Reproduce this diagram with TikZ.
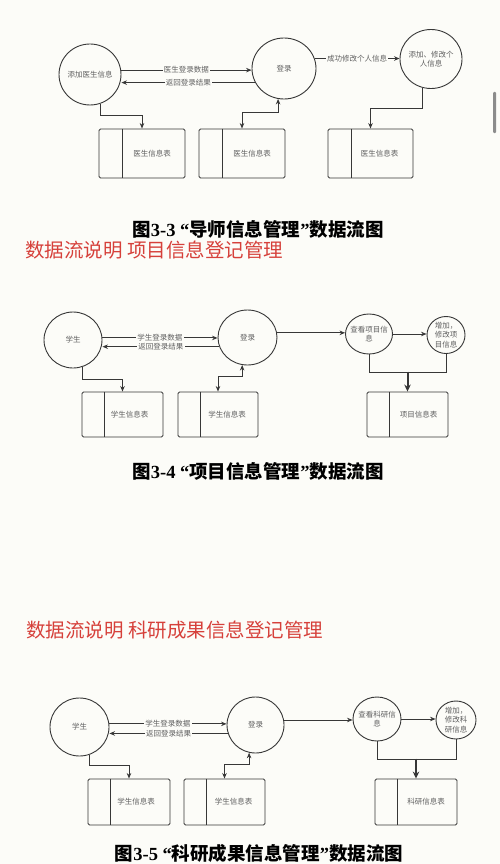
\documentclass[tikz,border=0pt]{standalone}
\usepackage{fontspec}
\setmainfont{Liberation Serif}
\newfontfamily\cjk{Noto Sans CJK SC}
\usetikzlibrary{shapes.geometric,arrows.meta,calc}
\definecolor{bg}{RGB}{252,252,248}
\definecolor{ln}{RGB}{55,55,55}
\definecolor{tx}{RGB}{95,95,95}
\definecolor{hd}{RGB}{214,64,58}
\definecolor{sb}{RGB}{140,140,140}
\newcommand{\zhb}{\cjk\bfseries}
\newcommand{\nb}{\rmfamily\bfseries}
\begin{document}
\begin{tikzpicture}[x=1pt,y=-1pt,
  bubble/.style={ellipse,draw=ln,line width=0.9pt,inner sep=0pt},
  blbl/.style={text=tx,font=\cjk\fontsize{7.5}{9.5}\selectfont,align=center,inner sep=0pt},
  store/.style={rectangle,rounded corners=1.5pt,draw=ln,line width=0.9pt,inner sep=0pt,text=tx,font=\cjk\fontsize{7.5}{9.5}\selectfont},
  divider/.style={draw=ln,line width=0.9pt},
  flow/.style={draw=ln,line width=0.9pt,-{Stealth[length=5.5pt,width=4.5pt]}},
  twoway/.style={draw=ln,line width=0.9pt,{Stealth[length=5.5pt,width=4.5pt]}-{Stealth[length=5.5pt,width=4.5pt]}},
  plain/.style={draw=ln,line width=0.9pt},
  thickflow/.style={draw=ln,line width=2pt,-{Stealth[length=7pt,width=6.5pt]}},
  flbl/.style={fill=bg,inner sep=1.2pt,text=tx,font=\cjk\fontsize{7.5}{9.5}\selectfont},
  caption/.style={inner sep=0pt,font=\fontsize{18.5}{20}\selectfont,text=black},
  heading/.style={anchor=west,inner sep=0pt,text=hd,font=\cjk\fontsize{19.5}{22}\selectfont}
]
\fill[bg] (0,0) rectangle (500,864);
\useasboundingbox (0,0) rectangle (500,864);
\fill[sb,rounded corners=1pt] (493,92) rectangle (496,133);

% ===== Diagram 1 =====
\node[bubble,minimum width=62pt,minimum height=61pt,label={[blbl]center:添加医生信息}] (c1) at (90,74.5) {};
\node[bubble,minimum width=64pt,minimum height=61pt,label={[blbl]center:登录}] (l1) at (284,68.5) {};
\node[bubble,minimum width=62pt,minimum height=59pt,label={[blbl]center:{添加、修改个\\人信息}}] (c3) at (431,59) {};
\node[store,minimum width=86pt,minimum height=49pt] (t1) at (142,153.5) {\hspace*{20pt}医生信息表};
\node[store,minimum width=86pt,minimum height=49pt] (t2) at (242,153.5) {\hspace*{20pt}医生信息表};
\node[store,minimum width=85pt,minimum height=49pt] (t3) at (370.5,153.5) {\hspace*{18pt}医生信息表};
\foreach \t in {t1,t2,t3}{\draw[divider] ([xshift=24pt]\t.north west) -- ([xshift=24pt]\t.south west);}
\draw[flow] (c1.8) -- (c1.8 -| l1.west) node[flbl,midway] {医生登录数据};
\draw[flow] (l1.206) -- (l1.206 -| c1.east) node[flbl,midway] {返回登录结果};
\draw[flow] (c1.-70) |- ([yshift=13pt]t1.north) -- (t1.north);
\draw[twoway] (t2.north) -- ++(0,-16) -| (l1.-101);
\draw[flow] (l1.18) -- (l1.18 -| c3.west) node[flbl,midway] {成功修改个人信息};
\draw[flow] (c3.-107) |- ([yshift=20pt]t3.north) -- (t3.north);

\node[caption] (cap1) at (258,229) {{\zhb 图}{\nb 3-3 “}{\zhb 导师信息管理}{\nb ”}{\zhb 数据流图}};
\node[heading] (h1) at (25,250.5) {数据流说明 项目信息登记管理};

% ===== Diagram 2 =====
\node[bubble,minimum width=58pt,minimum height=56pt,label={[blbl]center:学生}] (s2) at (73,340) {};
\node[bubble,minimum width=59pt,minimum height=55pt,label={[blbl]center:登录}] (l2) at (247.5,337.5) {};
\node[bubble,minimum width=47pt,minimum height=40pt,label={[blbl]center:{查看项目信\\息}}] (a2) at (369,334) {};
\node[bubble,minimum width=38pt,minimum height=37pt,label={[blbl]center:{增加，\\修改项\\目信息}}] (b2) at (446,335) {};
\node[store,minimum width=81pt,minimum height=45pt] (t4) at (122.5,414.5) {\hspace*{14pt}学生信息表};
\node[store,minimum width=80pt,minimum height=45pt] (t5) at (218,414.5) {\hspace*{18pt}学生信息表};
\node[store,minimum width=81pt,minimum height=45pt] (t6) at (407.5,414.5) {\hspace*{22pt}项目信息表};
\foreach \t in {t4,t5,t6}{\draw[divider] ([xshift=23pt]\t.north west) -- ([xshift=23pt]\t.south west);}
\draw[flow] (s2.4) -- (s2.4 -| l2.west) node[flbl,midway] {学生登录数据};
\draw[flow] (l2.198) -- (l2.198 -| s2.east) node[flbl,midway] {返回登录结果};
\draw[flow] (s2.-70) |- ([yshift=12pt]t4.north) -- (t4.north);
\draw[twoway] (t5.north) -- ++(0,-15) -| (l2.-101);
\draw[flow] (l2.9) -- (l2.9 -| a2.west);
\draw[flow] (a2.east) -- (a2.east -| b2.west);
\draw[plain] (a2.south) -- ++(0,18) -| (b2.south);
\draw[thickflow] ([yshift=20pt]t6.north) -- (t6.north);

\node[caption] (cap2) at (258,471.5) {{\zhb 图}{\nb 3-4 “}{\zhb 项目信息管理}{\nb ”}{\zhb 数据流图}};
\node[heading] (h2) at (26,630.5) {数据流说明 科研成果信息登记管理};

% ===== Diagram 3 =====
\node[bubble,minimum width=59pt,minimum height=58pt,label={[blbl]center:学生}] (s3) at (79.5,727) {};
\node[bubble,minimum width=57pt,minimum height=56pt,label={[blbl]center:登录}] (l3) at (255.5,725) {};
\node[bubble,minimum width=48pt,minimum height=44pt,label={[blbl]center:{查看科研信\\息}}] (a3) at (377,719) {};
\node[bubble,minimum width=40pt,minimum height=38pt,label={[blbl]center:{增加，\\修改科\\研信息}}] (b3) at (456,720) {};
\node[store,minimum width=82pt,minimum height=46pt] (t7) at (129,802) {\hspace*{14pt}学生信息表};
\node[store,minimum width=81pt,minimum height=46pt] (t8) at (224.5,802) {\hspace*{18pt}学生信息表};
\node[store,minimum width=82pt,minimum height=46pt] (t9) at (416,802) {\hspace*{20pt}科研信息表};
\foreach \t in {t7,t8,t9}{\draw[divider] ([xshift=23pt]\t.north west) -- ([xshift=23pt]\t.south west);}
\draw[flow] (s3.6) -- (s3.6 -| l3.west) node[flbl,midway] {学生登录数据};
\draw[flow] (l3.197) -- (l3.197 -| s3.east) node[flbl,midway] {返回登录结果};
\draw[flow] (s3.-71) |- ([yshift=13pt]t7.north) -- (t7.north);
\draw[twoway] (t8.north) -- ++(0,-14) -| (l3.-103);
\draw[flow] (l3.10) -- (l3.10 -| a3.west);
\draw[flow] (a3.east) -- (a3.east -| b3.west);
\draw[plain] (a3.south) -- ++(0,18) -| (b3.south);
\draw[thickflow] ([yshift=20pt]t9.north) -- (t9.north);

\node[caption] (cap3) at (259,853.5) {{\zhb 图}{\nb 3-5 “}{\zhb 科研成果信息管理}{\nb ”}{\zhb 数据流图}};
\end{tikzpicture}
\end{document}
